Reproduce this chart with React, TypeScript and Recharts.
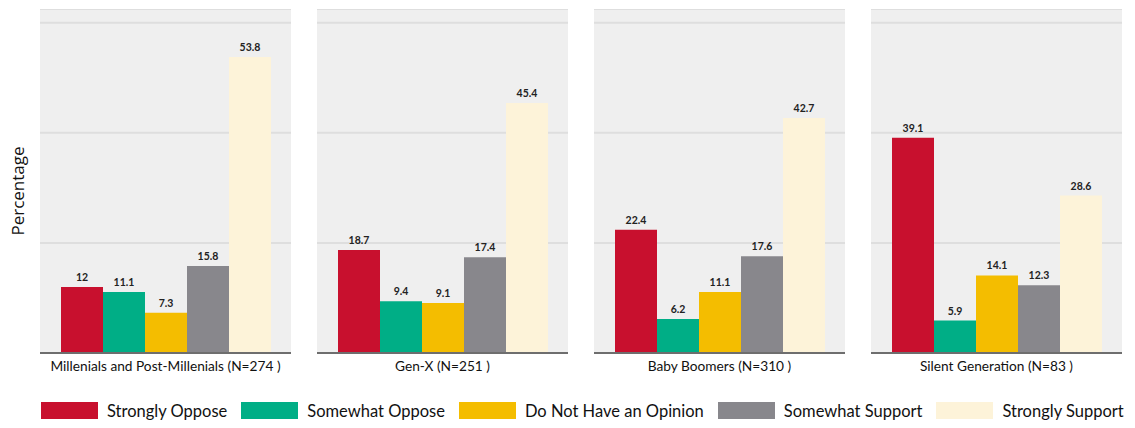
import { BarChart, Bar, XAxis, YAxis, CartesianGrid, LabelList } from 'recharts'

const GROUPS = [
  'Millenials and Post-Millenials (N=274 )',
  'Gen-X (N=251 )',
  'Baby Boomers (N=310 )',
  'Silent Generation (N=83 )',
]

const RESPONSES = [
  'Strongly Oppose',
  'Somewhat Oppose',
  'Do Not Have an Opinion',
  'Somewhat Support',
  'Strongly Support',
]

const STRONGLY_OPPOSE = [12, 18.7, 22.4, 39.1]
const SOMEWHAT_OPPOSE = [11.1, 9.4, 6.2, 5.9]
const NO_OPINION = [7.3, 9.1, 11.1, 14.1]
const SOMEWHAT_SUPPORT = [15.8, 17.4, 17.6, 12.3]
const STRONGLY_SUPPORT = [53.8, 45.4, 42.7, 28.6]

const KEYS = ['so', 'wo', 'no', 'ws', 'ss']
const COLORS = ['#c8102e', '#00ae86', '#f4bd00', '#88878c', '#fdf3d9']

const FONT = 'Lato, "Liberation Sans", sans-serif'

const PANEL_W = 251
const PANEL_GAP = 26

// plain tick so the long group name stays on one line
function GroupTick({ x, y, payload }: any) {
  return (
    <text x={x} y={y} dy="0.71em" textAnchor="middle" fontSize={13.7} fill="#111" fontFamily={FONT}>
      {payload.value}
    </text>
  )
}

function Panel({ index }: { index: number }) {
  const row = {
    group: GROUPS[index],
    so: STRONGLY_OPPOSE[index],
    wo: SOMEWHAT_OPPOSE[index],
    no: NO_OPINION[index],
    ws: SOMEWHAT_SUPPORT[index],
    ss: STRONGLY_SUPPORT[index],
  }
  return (
    <div style={{ position: 'absolute', left: 40 + index * (PANEL_W + PANEL_GAP), top: 9 }}>
      <BarChart
        width={PANEL_W}
        height={375}
        data={[row]}
        margin={{ top: 0, right: 0, bottom: 0, left: 0 }}
        barCategoryGap={21}
        barGap={0}
        style={{ overflow: 'visible' }}
      >
        <CartesianGrid vertical={false} fill="#efefef" stroke="#dedede" strokeWidth={2} />
        <YAxis hide domain={[0, 62.5]} ticks={[0, 20, 40, 60]} />
        <XAxis
          dataKey="group"
          height={31}
          tickLine={false}
          axisLine={{ stroke: '#6e6e6e', strokeWidth: 2 }}
          tick={<GroupTick />}
          interval={0}
        />
        {KEYS.map((k, i) => (
          <Bar key={k} dataKey={k} fill={COLORS[i]} isAnimationActive={false}>
            <LabelList
              dataKey={k}
              position="top"
              offset={6}
              style={{ fontSize: 10.5, fill: '#222', fontFamily: FONT, fontWeight: 700 }}
            />
          </Bar>
        ))}
      </BarChart>
    </div>
  )
}

export default function App() {
  return (
    <div
      style={{
        position: 'absolute',
        left: 0,
        top: 0,
        width: 1135,
        height: 428,
        background: '#fff',
        overflow: 'hidden',
        fontFamily: FONT,
      }}
    >
      <div
        style={{
          position: 'absolute',
          left: 17,
          top: 191,
          transform: 'translate(-50%, -50%) rotate(-90deg)',
          fontSize: 17,
          fontFamily: '"Open Sans", sans-serif',
          color: '#111',
          whiteSpace: 'nowrap',
        }}
      >
        Percentage
      </div>
      {GROUPS.map((_, i) => (
        <Panel key={i} index={i} />
      ))}
      <div
        style={{
          position: 'absolute',
          left: 41,
          top: 402,
          display: 'flex',
          alignItems: 'center',
          height: 17,
        }}
      >
        {RESPONSES.map((r, i) => (
          <div key={r} style={{ display: 'flex', alignItems: 'center', marginRight: 14 }}>
            <div style={{ width: 57, height: 17, background: COLORS[i], marginRight: 9 }} />
            <span style={{ fontSize: 16.5, color: '#111', whiteSpace: 'nowrap' }}>{r}</span>
          </div>
        ))}
      </div>
    </div>
  )
}
